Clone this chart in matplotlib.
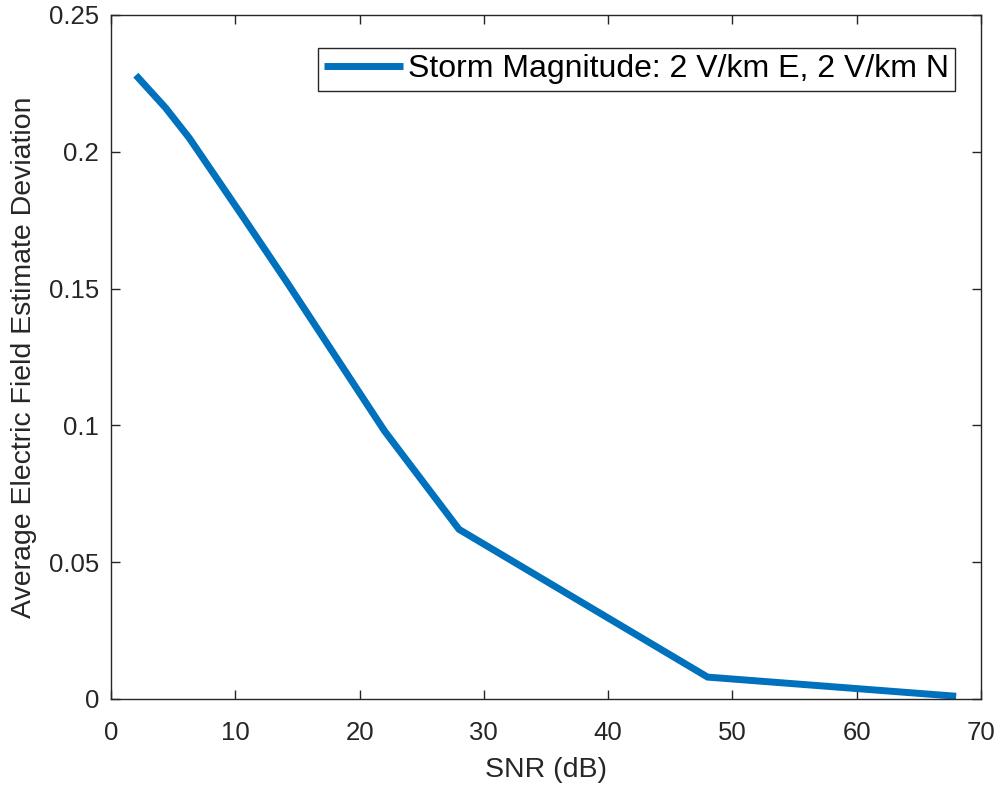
import matplotlib
matplotlib.use("Agg")
import matplotlib.pyplot as plt

# values
snr_db = [2, 4.4, 6.3, 10.5, 14.2, 22, 28, 48, 68]
deviation = [0.228, 0.216, 0.205, 0.177, 0.152, 0.098, 0.062, 0.008, 0.001]
legend_label = "Storm Magnitude: 2 V/km E, 2 V/km N"
x_ticks = [0, 10, 20, 30, 40, 50, 60, 70]
y_ticks = [0, 0.05, 0.1, 0.15, 0.2, 0.25]
y_ticklabels = ["0", "0.05", "0.1", "0.15", "0.2", "0.25"]

plt.rcParams['font.family'] = ['Liberation Sans', 'DejaVu Sans']
axis_color = "#262626"

fig = plt.figure(figsize=(9.98, 7.86), dpi=100)
ax = fig.add_axes([0.1112, 0.1107, 0.8718, 0.8703])

ax.plot(snr_db, deviation, color="#0072BD", linewidth=5, label=legend_label,
        solid_joinstyle="miter", solid_capstyle="butt")

ax.set_xlim(0, 70)
ax.set_ylim(0, 0.25)
ax.set_xticks(x_ticks)
ax.set_yticks(y_ticks)
ax.set_yticklabels(y_ticklabels)
ax.tick_params(direction="in", top=True, right=True, length=6.5, width=1,
               colors=axis_color, labelsize=18.5)
ax.tick_params(axis="x", pad=16)
ax.tick_params(axis="y", pad=8.5)
for sp in ax.spines.values():
    sp.set_color(axis_color)
    sp.set_linewidth(1)

ax.set_xlabel("SNR (dB)", fontsize=20.5, color=axis_color)
ax.set_ylabel("Average Electric Field Estimate Deviation", fontsize=20.5,
              color=axis_color)
ax.xaxis.set_label_coords(0.5, -0.085)
ax.yaxis.set_label_coords(-0.085, 0.5)

leg = ax.legend(loc="upper right", bbox_to_anchor=(0.970, 0.952),
                borderaxespad=0, fontsize=23, fancybox=False, framealpha=1,
                handlelength=2.45, handletextpad=0.15, borderpad=0.2)
leg.get_frame().set_edgecolor(axis_color)
leg.get_frame().set_linewidth(1)
for t in leg.get_texts():
    t.set_color("black")

fig.savefig("out.png", dpi=100)
